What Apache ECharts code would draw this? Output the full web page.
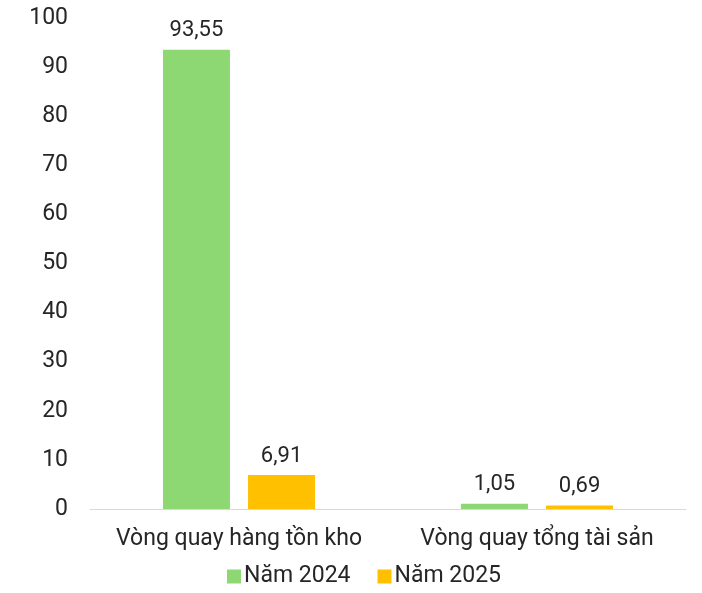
<!DOCTYPE html>
<html>
<head>
<meta charset="utf-8">
<script src="https://cdn.jsdelivr.net/npm/echarts@6/dist/echarts.min.js"></script>
<style>
  html, body { margin: 0; padding: 0; background: #fff; }
  #chart { width: 702px; height: 593px; }
</style>
</head>
<body>
<div id="chart"></div>
<script>
// Turnover ratios for two years
const categories = ['Vòng quay hàng tồn kho', 'Vòng quay tổng tài sản'];
const seriesNames = ['Năm 2024', 'Năm 2025'];
const values2024 = [93.55, 1.05];
const values2025 = [6.91, 0.69];
const colors = ['#8ED873', '#FFC000'];

const fontFamily = 'Roboto, "Noto Sans", sans-serif';
const textColor = '#262626';

function fmt(v) {
  return v.toFixed(2).replace('.', ',');
}

function makeSeries(name, data, color) {
  return {
    name: name,
    type: 'bar',
    data: data,
    barWidth: 67,
    barGap: '27%',
    itemStyle: { color: color },
    label: {
      show: true,
      position: 'top',
      distance: 8,
      fontFamily: fontFamily,
      fontSize: 22,
      color: textColor,
      formatter: p => fmt(p.value)
    }
  };
}

const chart = echarts.init(document.getElementById('chart'), null, { renderer: 'canvas' });
chart.setOption({
  animation: false,
  textStyle: { fontFamily: fontFamily },
  grid: { left: 90, right: 16, top: 18, bottom: 84, containLabel: false },
  legend: {
    data: seriesNames,
    bottom: 0,
    left: 222,
    icon: 'rect',
    itemWidth: 14,
    itemHeight: 14,
    itemGap: 27,
    textStyle: { fontFamily: fontFamily, fontSize: 23, color: textColor, padding: [0, 0, 0, -2] }
  },
  xAxis: {
    type: 'category',
    data: categories,
    axisLine: { show: true, lineStyle: { color: '#d9d9d9', width: 1 } },
    axisTick: { show: false },
    axisLabel: { interval: 0, fontFamily: fontFamily, fontSize: 23, color: textColor, margin: 19 }
  },
  yAxis: {
    type: 'value',
    min: 0,
    max: 100,
    interval: 10,
    axisLine: { show: false },
    axisTick: { show: false },
    splitLine: { show: false },
    axisLabel: { fontFamily: fontFamily, fontSize: 23, color: textColor, margin: 22 }
  },
  series: [
    makeSeries(seriesNames[0], values2024, colors[0]),
    makeSeries(seriesNames[1], values2025, colors[1])
  ]
});
</script>
</body>
</html>
